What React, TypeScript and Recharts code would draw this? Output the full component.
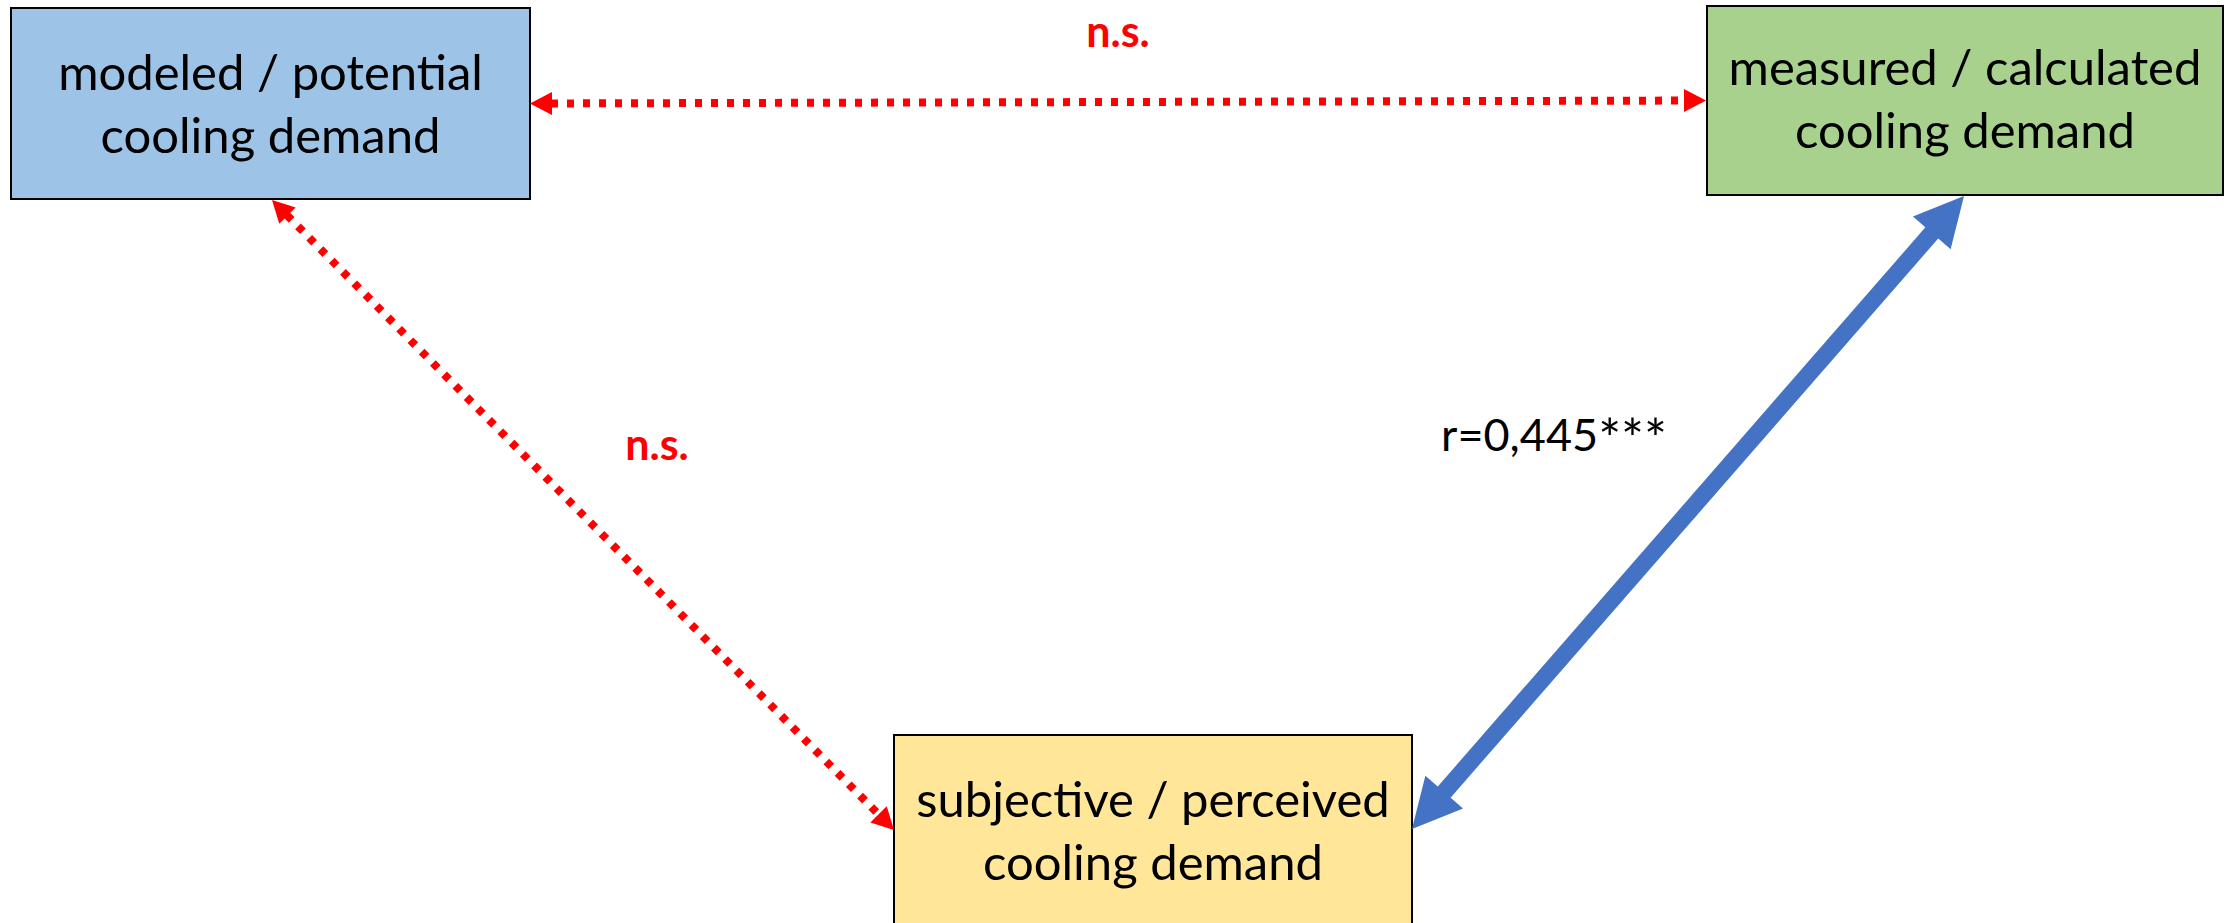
import React from 'react';
import { ComposedChart, XAxis, YAxis, ReferenceArea, ReferenceLine, Scatter } from 'recharts';

const WIDTH = 2229;
const HEIGHT = 923;

// Diagram nodes (diagram units, x to the right, y downwards)
const nodeTitle = ['modeled / potential', 'measured / calculated', 'subjective / perceived'];
const nodeSubtitle = ['cooling demand', 'cooling demand', 'cooling demand'];
const nodeX0 = [11, 1707, 894];
const nodeX1 = [530, 2223, 1412];
const nodeY0 = [8, 6, 735];
const nodeY1 = [199, 195, 960];
const nodeFill = ['#9DC3E6', '#A9D18E', '#FFE699'];
const nodeLabelX = [270.5, 1965, 1153];
const nodeLabelY = [90, 85, 817];

// Connectors between nodes
const linkX1 = [530, 272, 1412];
const linkY1 = [103.5, 200, 829];
const linkX2 = [1706, 894, 1964];
const linkY2 = [100.5, 830, 196];
const linkKind = ['ns', 'ns', 'sig'];

// Annotations
const annText = ['n.s.', 'n.s.', 'r=0,445'];
const annStars = ['', '', '***'];
const annX = [1118, 657, 1554];
const annY = [47, 460, 451];
const annKind = ['ns', 'ns', 'sig'];

const nodeLabelData = nodeTitle.map((t, i) => ({ x: nodeLabelX[i], y: nodeLabelY[i], title: t, sub: nodeSubtitle[i] }));
const annData = annText.map((t, i) => ({ x: annX[i], y: annY[i], text: t, stars: annStars[i], kind: annKind[i] }));

const FONT = 'Lato, "Open Sans", sans-serif';

const arrowStyle: Record<string, any> = {
  ns: { color: '#FF0000', headLen: 22, headWidth: 23, shaft: 8, dash: '7 9' },
  sig: { color: '#4472C4', headLen: 49, headWidth: 50, shaft: 17, dash: undefined },
};

function renderArrow(props: any, kind: string) {
  const { x1, y1, x2, y2 } = props;
  const s = arrowStyle[kind];
  const dx = x2 - x1;
  const dy = y2 - y1;
  const len = Math.hypot(dx, dy) || 1;
  const ux = dx / len;
  const uy = dy / len;
  const nx = -uy;
  const ny = ux;
  const L = s.headLen;
  const hw = s.headWidth / 2;
  const head = (tx: number, ty: number, dir: number) => {
    const bx = tx - dir * ux * L;
    const by = ty - dir * uy * L;
    return `${tx},${ty} ${bx + nx * hw},${by + ny * hw} ${bx - nx * hw},${by - ny * hw}`;
  };
  const inset = s.dash ? L - 1 : L - 3;
  return (
    <g>
      <line
        x1={x1 + ux * inset}
        y1={y1 + uy * inset}
        x2={x2 - ux * inset}
        y2={y2 - uy * inset}
        stroke={s.color}
        strokeWidth={s.shaft}
        strokeDasharray={s.dash}
        strokeLinecap="butt"
      />
      <polygon points={head(x1, y1, -1)} fill={s.color} />
      <polygon points={head(x2, y2, 1)} fill={s.color} />
    </g>
  );
}

const NodeLabel = (props: any) => {
  const { cx, cy, payload } = props;
  return (
    <text x={cx} y={cy} textAnchor="middle" fontFamily={FONT} fontSize={49} fill="#000000">
      <tspan x={cx} y={cy}>{payload.title}</tspan>
      <tspan x={cx} y={cy + 63}>{payload.sub}</tspan>
    </text>
  );
};

const AnnLabel = (props: any) => {
  const { cx, cy, payload } = props;
  const ns = payload.kind === 'ns';
  return (
    <text
      x={cx}
      y={cy}
      textAnchor="middle"
      fontFamily={FONT}
      fontSize={ns ? 43 : 45}
      fontWeight={ns ? 700 : 400}
      fill={ns ? '#FF0000' : '#000000'}
    >
      {payload.text}
      {payload.stars ? (
        <tspan fontSize={54} dy={7}>{payload.stars}</tspan>
      ) : null}
    </text>
  );
};

export default function App() {
  return (
    <div style={{ position: 'absolute', left: 0, top: 0, width: WIDTH, height: HEIGHT, background: '#ffffff' }}>
      <ComposedChart width={WIDTH} height={HEIGHT} margin={{ top: 0, right: 0, bottom: 0, left: 0 }}>
        <XAxis type="number" dataKey="x" domain={[0, WIDTH]} allowDataOverflow hide />
        <YAxis type="number" dataKey="y" domain={[0, HEIGHT]} allowDataOverflow reversed hide />
        {nodeTitle.map((t, i) => (
          <ReferenceArea
            key={`box-${i}`}
            x1={nodeX0[i]}
            x2={nodeX1[i]}
            y1={nodeY0[i]}
            y2={nodeY1[i]}
            fill={nodeFill[i]}
            fillOpacity={1}
            stroke="#000000"
            strokeWidth={2}
            ifOverflow="visible"
          />
        ))}
        {linkKind.map((k, i) => (
          <ReferenceLine
            key={`link-${i}`}
            segment={[
              { x: linkX1[i], y: linkY1[i] },
              { x: linkX2[i], y: linkY2[i] },
            ]}
            ifOverflow="visible"
            shape={(p: any) => renderArrow(p, k)}
          />
        ))}
        <Scatter data={nodeLabelData} dataKey="y" shape={<NodeLabel />} isAnimationActive={false} />
        <Scatter data={annData} dataKey="y" shape={<AnnLabel />} isAnimationActive={false} />
      </ComposedChart>
    </div>
  );
}
